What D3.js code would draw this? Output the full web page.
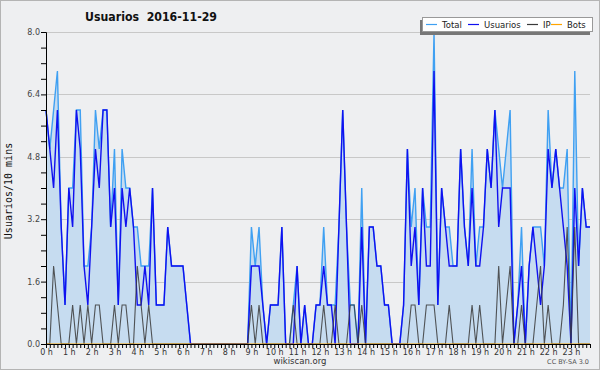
<!DOCTYPE html>
<html>
<head>
<meta charset="utf-8">
<script src="https://cdn.jsdelivr.net/npm/d3@7"></script>
<style>
  body { margin: 0; background: #fff; }
  svg { display: block; font-family: "DejaVu Sans", sans-serif; }
</style>
</head>
<body>
<svg id="chart" width="600" height="370"></svg>
<script>
// 10-minute samples, 144 per day
const usuarios = [6,5,4,6,3,1,4,3,6,5,2,1,3,5,4,6,6,3,4,1,4,3,4,3,1,1,2,1,4,1,1,1,3,2,2,2,2,1,0,0,
  0,0,0,0,0,0,0,0,0,0,0,0,0,0,2,2,2,1,0,1,1,1,3,0,0,0,2,0,1,0,0,1,1,2,1,1,0,3,6,3,
  0,0,0,3,0,3,3,2,2,1,1,0,0,0,1,5,2,3,1,4,2,2,7,1,4,3,2,2,2,5,3,2,4,2,2,3,5,4,6,3,
  4,4,4,0,1,2,0,2,3,2,1,2,5,4,5,4,3,2,0,4,2,4,3,3]
const ip = [0,0,2,1,0,0,0,1,0,1,0,1,0,1,1,0,0,0,1,0,1,1,0,0,2,1,0,1,0,0,0,0,0,0,0,0,0,0,0,0,
  0,0,0,0,0,0,0,0,0,0,0,0,0,0,1,0,1,0,0,0,0,0,0,0,0,1,0,0,0,0,0,0,0,1,0,0,1,0,0,0,
  1,1,0,1,0,0,0,0,0,0,0,0,0,0,0,0,1,1,0,0,1,1,1,0,0,0,1,0,0,0,0,0,1,0,1,0,0,0,0,2,
  0,1,2,0,0,1,0,0,0,1,2,0,1,0,0,0,1,3,0,3,0,0,0,0]
const bots = new Array(144).fill(0)
const total = usuarios.map((u, i) => u + ip[i] + bots[i])

const yTicks = [0, 1.6, 3.2, 4.8, 6.4, 8.0]
const hourLabels = d3.range(24).map(h => h + " h")

const svg = d3.select("#chart")
const W = 600, H = 370
const margin = { top: 32, right: 10, bottom: 26, left: 46 }
const plotW = W - margin.left - margin.right
const plotH = H - margin.top - margin.bottom

svg.append("rect")
  .attr("fill", "#eeeff1").attr("stroke", "#b4b4b4").attr("stroke-width", 1)
  .attr("x", 0.5).attr("y", 0.5).attr("width", W - 1).attr("height", H - 1)

const x = d3.scaleLinear().domain([0, 143]).range([margin.left, margin.left + plotW])
const y = d3.scaleLinear().domain([0, 8]).range([margin.top + plotH, margin.top])

// grid
svg.append("g").selectAll("line").data(yTicks).join("line")
  .attr("x1", margin.left).attr("x2", margin.left + plotW)
  .attr("y1", d => Math.round(y(d)) + 0.5).attr("y2", d => Math.round(y(d)) + 0.5)
  .attr("stroke", "#c8c8c8").attr("stroke-width", 1)

const idx = d3.range(144)

svg.append("path").datum(idx)
  .attr("fill", "#c6dcf0")
  .attr("d", d3.area().x(i => x(i)).y0(y(0)).y1(i => y(total[i])))

const line = arr => d3.line().x(i => x(i)).y(i => y(arr[i]))

svg.append("path").datum(idx).attr("fill", "none")
  .attr("stroke", "#3fa0f2").attr("stroke-width", 1.4).attr("d", line(total))
svg.append("path").datum(idx).attr("fill", "none")
  .attr("stroke", "#1010f0").attr("stroke-width", 1.4).attr("d", line(usuarios))
svg.append("path").datum(idx).attr("fill", "none")
  .attr("stroke", "#3a3a3a").attr("stroke-opacity", 0.85).attr("stroke-width", 1.1).attr("d", line(ip))
svg.append("path").datum(idx).attr("fill", "none")
  .attr("stroke", "#ffa500").attr("stroke-width", 1.2).attr("d", line(bots))

// y axis
const yAxis = svg.append("g")
  .attr("transform", "translate(" + margin.left + ",0)")
  .call(d3.axisLeft(y).tickValues(d3.range(0, 8.01, 0.4)).tickSize(5)
    .tickFormat(d => yTicks.some(t => Math.abs(t - d) < 1e-6) ? d.toFixed(1) : ""))
yAxis.select(".domain").attr("stroke", "#000")
yAxis.selectAll("text").attr("font-size", 8).attr("fill", "#444")
  .attr("font-family", "DejaVu Sans").attr("x", -6)

// x axis
const xAxis = svg.append("g")
  .attr("transform", "translate(0," + (margin.top + plotH) + ")")
  .call(d3.axisBottom(x).tickValues(idx).tickSize(4)
    .tickFormat(i => i % 6 === 0 ? hourLabels[i / 6] : ""))
xAxis.select(".domain").attr("stroke", "#000")
xAxis.selectAll("text").attr("font-size", 8).attr("fill", "#333")
  .attr("font-family", "DejaVu Sans").attr("y", 5)

// title
svg.append("text").attr("x", 85).attr("y", 21)
  .attr("font-size", 12).attr("font-weight", "bold")
  .attr("fill", "#111").attr("xml:space", "preserve")
  .attr("textLength", 132).attr("lengthAdjust", "spacingAndGlyphs")
  .text("Usuarios  2016-11-29")

svg.append("text")
  .attr("transform", "translate(12," + (margin.top + plotH / 2 + 3) + ")rotate(-90)")
  .attr("text-anchor", "middle").attr("font-size", 10)
  .attr("font-family", "DejaVu Sans Mono").attr("fill", "#111")
  .text("Usuarios/10 mins")

svg.append("text").attr("x", 300).attr("y", 364).attr("text-anchor", "middle")
  .attr("font-size", 8.5).attr("fill", "#333").text("wikiscan.org")
svg.append("text").attr("x", 589).attr("y", 364).attr("text-anchor", "end")
  .attr("font-size", 6.5).attr("fill", "#555").text("CC BY-SA 3.0")

// legend
const legendItems = [
  { name: "Total", color: "#3fa0f2", lx: 426 },
  { name: "Usuarios", color: "#1010f0", lx: 468 },
  { name: "IP", color: "#3a3a3a", lx: 527 },
  { name: "Bots", color: "#ffa500", lx: 551 }
]
const lg = svg.append("g")
lg.append("rect").attr("x", 420).attr("y", 20).attr("width", 170).attr("height", 15).attr("fill", "#777")
lg.append("rect").attr("x", 422.5).attr("y", 17.5).attr("width", 170).attr("height", 14)
  .attr("fill", "#fff").attr("stroke", "#999")
legendItems.forEach(d => {
  lg.append("line").attr("x1", d.lx).attr("x2", d.lx + 11).attr("y1", 24.5).attr("y2", 24.5)
    .attr("stroke", d.color).attr("stroke-width", 1.2)
  lg.append("text").attr("x", d.lx + 16).attr("y", 28)
    .attr("font-size", 8.5).attr("fill", "#222").text(d.name)
})
</script>
</body>
</html>
